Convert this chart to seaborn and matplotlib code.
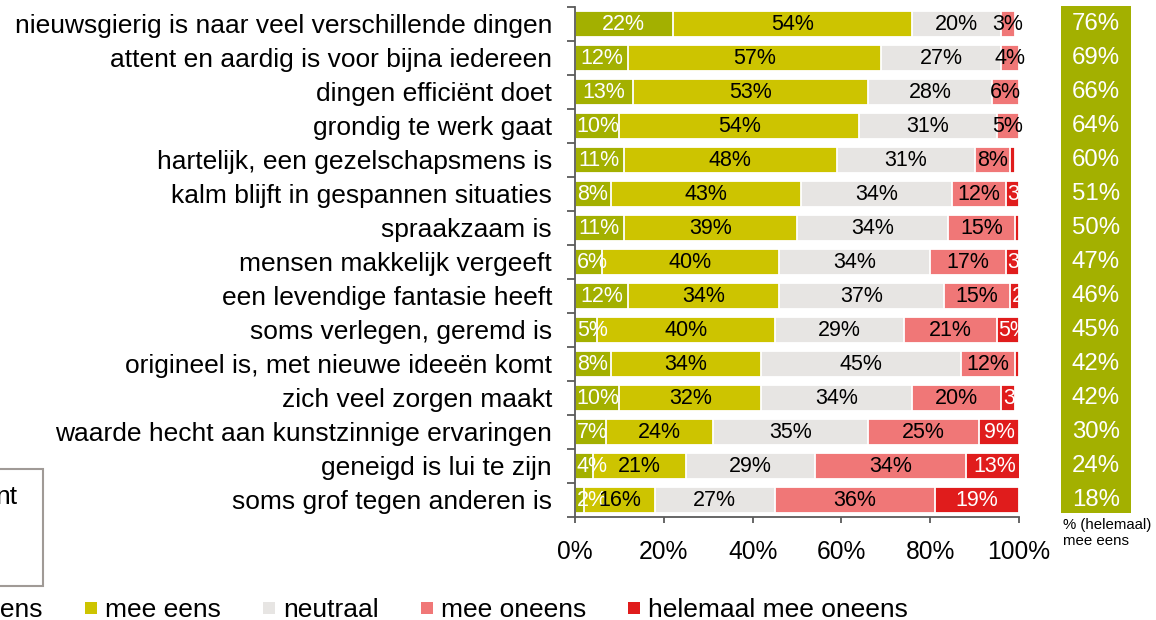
import numpy as np
import pandas as pd
import matplotlib
matplotlib.use("Agg")
import matplotlib.pyplot as plt
from matplotlib.patches import Rectangle
from matplotlib.lines import Line2D
from matplotlib.transforms import blended_transform_factory
import seaborn as sns

# ---------------- data ----------------
categories = [
    "nieuwsgierig is naar veel verschillende dingen",
    "attent en aardig is voor bijna iedereen",
    "dingen efficiënt doet",
    "grondig te werk gaat",
    "hartelijk, een gezelschapsmens is",
    "kalm blijft in gespannen situaties",
    "spraakzaam is",
    "mensen makkelijk vergeeft",
    "een levendige fantasie heeft",
    "soms verlegen, geremd is",
    "origineel is, met nieuwe ideeën komt",
    "zich veel zorgen maakt",
    "waarde hecht aan kunstzinnige ervaringen",
    "geneigd is lui te zijn",
    "soms grof tegen anderen is",
]
helemaal_eens   = [22, 12, 13, 10, 11, 8, 11, 6, 12, 5, 8, 10, 7, 4, 2]
eens            = [54, 57, 53, 54, 48, 43, 39, 40, 34, 40, 34, 32, 24, 21, 16]
neutraal        = [20, 27, 28, 31, 31, 34, 34, 34, 37, 29, 45, 34, 35, 29, 27]
oneens          = [3, 4, 6, 5, 8, 12, 15, 17, 15, 21, 12, 20, 25, 34, 36]
helemaal_oneens = [0, 0, 0, 0, 1, 3, 1, 3, 2, 5, 1, 3, 9, 13, 19]
totaal_eens     = [76, 69, 66, 64, 60, 51, 50, 47, 46, 45, 42, 42, 30, 24, 18]
series_names = ["helemaal mee eens", "mee eens", "neutraal", "mee oneens",
                "helemaal mee oneens"]
x_ticks = [0, 20, 40, 60, 80, 100]
note_text = "% (helemaal)\nmee eens"
box_text = "nt"

# ---------------- style ----------------
colors = ["#a3b000", "#cdc400", "#e7e5e3", "#f07777", "#e01c1c"]
label_colors = ["white", "black", "black", "black", "white"]
box_color = "#a3b000"
axis_color = "#5a5a5a"

sns.set_theme(style="ticks")
plt.rcParams["font.family"] = ["Liberation Sans", "DejaVu Sans"]
plt.rcParams["text.color"] = "black"
plt.rcParams["xtick.color"] = axis_color
plt.rcParams["ytick.color"] = axis_color
plt.rcParams["xtick.labelcolor"] = "black"
plt.rcParams["ytick.labelcolor"] = "black"

W, H = 1156, 620
fig = plt.figure(figsize=(W / 100, H / 100), dpi=100)
fig.patch.set_facecolor("white")
ax = fig.add_axes([575 / W, (H - 517) / H, 444 / W, 510 / H])

series = [helemaal_eens, eens, neutraal, oneens, helemaal_oneens]
vals = np.array(series, dtype=float)
cum = np.cumsum(vals, axis=0)
starts = cum - vals

df = pd.DataFrame({"kenmerk": categories})
for k, name in enumerate(series_names):
    df["cum_" + str(k)] = cum[k]

for k in reversed(range(5)):
    sns.barplot(data=df, x="cum_" + str(k), y="kenmerk", orient="y",
                color=colors[k], saturation=1, width=0.78, errorbar=None,
                edgecolor="white", linewidth=1.3, ax=ax, order=categories)

ax.set_xlim(0, 100)
ax.set_ylim(len(categories) - 0.5, -0.5)
ax.set_xlabel("")
ax.set_ylabel("")
for s in ["top", "right"]:
    ax.spines[s].set_visible(False)
for s in ["left", "bottom"]:
    ax.spines[s].set_color(axis_color)
    ax.spines[s].set_linewidth(1.3)

ax.set_xticks(x_ticks, [f"{t}%" for t in x_ticks])
ax.tick_params(axis="x", direction="out", length=4.5, width=1.3, pad=12,
               labelsize=17.7, bottom=True)
ax.set_yticks(range(len(categories)), categories)
ax.tick_params(axis="y", which="major", length=0, pad=16.5, labelsize=19)
ax.set_yticks(np.arange(-0.5, len(categories), 1.0), minor=True)
ax.tick_params(axis="y", which="minor", direction="out", length=6, width=1.3,
               left=True)

# segment labels
seg_texts = []
for i in range(len(categories)):
    for k in range(5):
        v = vals[k, i]
        if v < 2:
            continue
        c = starts[k, i] + v / 2
        t = ax.text(c, i, f"{int(v)}%", ha="center", va="center",
                    color=label_colors[k], fontsize=15.5, clip_on=False)
        seg_texts.append((t, k, starts[k, i]))

# totals box
fig.add_artist(Rectangle((1061 / W, (H - 513) / H), 70 / W, 507 / H,
                         facecolor=box_color, edgecolor="none",
                         transform=fig.transFigure, zorder=0))
btrans = blended_transform_factory(fig.transFigure, ax.transData)
for i, tv in enumerate(totaal_eens):
    ax.text(1096 / W, i, f"{tv}%", transform=btrans, ha="center",
            va="center", color="white", fontsize=17.3, clip_on=False)

fig.text(1063 / W, (H - 518) / H, note_text, fontsize=10.8, ha="left",
         va="top", linespacing=1.2)

# partially visible box on the left
fig.add_artist(Rectangle((-10 / W, (H - 586) / H), 52.7 / W, 117 / H,
                         fill=False, edgecolor="#a09a96", linewidth=1.5,
                         transform=fig.transFigure))
fig.text(17 / W, (H - 497) / H, box_text, ha="right", va="center",
         fontsize=19)

# legend
handles = [Line2D([], [], marker="s", linestyle="none", markersize=8.6,
                  markerfacecolor=c, markeredgewidth=0) for c in colors]
leg = fig.legend(handles, series_names, ncol=5, loc="center left",
                 bbox_to_anchor=(0, 10 / H), frameon=False, fontsize=19,
                 handlelength=0.6, handletextpad=0.23, columnspacing=1.52,
                 borderpad=0, borderaxespad=0)

fig.canvas.draw()
renderer = fig.canvas.get_renderer()

# keep narrow edge labels starting at their segment
for t, k, st in seg_texts:
    if k not in (0, 4):
        continue
    bb = t.get_window_extent(renderer)
    px_start = ax.transData.transform((st, 0))[0]
    if bb.x0 < px_start + 1.5:
        t.set_ha("left")
        t.set_x(st + 0.4)

bb = leg.get_texts()[1].get_window_extent(renderer)
shift = 105 - bb.x0
leg.set_bbox_to_anchor((shift / W, 10 / H), transform=fig.transFigure)

fig.savefig("out.png", dpi=100, facecolor="white")
